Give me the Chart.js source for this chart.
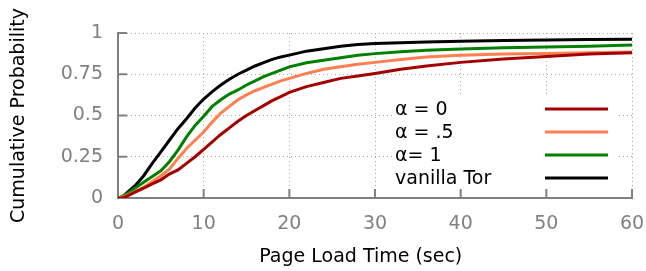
<!DOCTYPE html>
<html>
<head>
<meta charset="utf-8">
<script src="https://cdn.jsdelivr.net/npm/chart.js@4.4.1/dist/chart.umd.min.js"></script>
<style>
  body { margin: 0; background: #fff; }
  #wrap { width: 646px; height: 271px; position: relative; }
</style>
</head>
<body>
<div id="wrap"><canvas id="myChart"></canvas></div>
<script>
// load time (sec)
var times = [0, 0.5, 1, 2, 3, 4, 5, 6, 7, 8, 9, 10, 11, 12, 13, 14, 15, 16, 17, 18, 19, 20,
             22, 24, 26, 28, 30, 33, 36, 40, 45, 50, 55, 60];

var alpha0   = [0, 0, 0.01, 0.035, 0.06, 0.085, 0.11, 0.145, 0.17, 0.21, 0.25, 0.295, 0.34, 0.385, 0.425, 0.465, 0.50, 0.53, 0.56, 0.59, 0.615, 0.64,
                0.675, 0.70, 0.725, 0.74, 0.755, 0.78, 0.80, 0.822, 0.843, 0.858, 0.872, 0.88];
var alpha05  = [0, 0.005, 0.015, 0.04, 0.065, 0.10, 0.135, 0.175, 0.24, 0.30, 0.35, 0.40, 0.46, 0.515, 0.555, 0.595, 0.625, 0.65, 0.67, 0.69, 0.71, 0.725,
                0.755, 0.78, 0.795, 0.81, 0.822, 0.84, 0.855, 0.865, 0.872, 0.876, 0.88, 0.885];
var alpha1   = [0, 0.01, 0.025, 0.06, 0.095, 0.13, 0.165, 0.22, 0.29, 0.37, 0.44, 0.495, 0.555, 0.595, 0.63, 0.655, 0.685, 0.71, 0.735, 0.755, 0.775, 0.795,
                0.82, 0.835, 0.85, 0.865, 0.875, 0.887, 0.895, 0.903, 0.91, 0.915, 0.92, 0.927];
var vanilla  = [0, 0, 0.03, 0.075, 0.135, 0.21, 0.28, 0.35, 0.42, 0.48, 0.545, 0.60, 0.645, 0.685, 0.72, 0.75, 0.775, 0.80, 0.82, 0.84, 0.855, 0.866,
                0.89, 0.905, 0.92, 0.93, 0.936, 0.941, 0.945, 0.95, 0.954, 0.957, 0.96, 0.962];

var seriesNames = ['α = 0', 'α = .5', 'α= 1', 'vanilla Tor'];
var seriesColors = ['#a30000', '#ff7f50', '#008000', '#000000'];
var xTicks = [0, 10, 20, 30, 40, 50, 60];
var yTickLabels = ['0', '0.25', '0.5', '0.75', '1'];

var gray = '#808080';
var font = { family: 'DejaVu Sans', size: 19 };

function pts(vals) {
    return vals.map(function (v, i) { return { x: times[i], y: v }; });
}

var allSeries = [alpha0, alpha05, alpha1, vanilla];
var datasets = allSeries.map(function (s, i) {
    return {
        label: seriesNames[i],
        data: pts(s),
        borderColor: seriesColors[i],
        backgroundColor: seriesColors[i],
        borderWidth: 3,
        pointRadius: 0,
        tension: 0,
        fill: false
    };
});

// small tick marks pointing into the plot
var innerTicks = {
    id: 'innerTicks',
    beforeDatasetsDraw: function (chart) {
        var ctx = chart.ctx, a = chart.chartArea;
        var xs = chart.scales.x, ys = chart.scales.y;
        ctx.save();
        ctx.strokeStyle = gray;
        ctx.lineWidth = 2;
        ctx.beginPath();
        xs.ticks.forEach(function (t) {
            var px = xs.getPixelForValue(t.value);
            ctx.moveTo(px, a.bottom);
            ctx.lineTo(px, a.bottom - 9);
        });
        ys.ticks.forEach(function (t) {
            var py = ys.getPixelForValue(t.value);
            ctx.moveTo(a.left, py);
            ctx.lineTo(a.left + 9, py);
        });
        ctx.stroke();
        ctx.restore();
    }
};

// legend box inside the plot, text left and line sample right
var insideLegend = {
    id: 'insideLegend',
    afterDraw: function (chart) {
        var ctx = chart.ctx, a = chart.chartArea;
        var left = a.left + 277, top = a.top + 64;
        ctx.save();
        ctx.fillStyle = '#fff';
        ctx.fillRect(left - 2, top, 225, 91);
        ctx.font = '19px "DejaVu Sans"';
        ctx.textBaseline = 'middle';
        chart.data.datasets.forEach(function (ds, i) {
            var y = top + 13 + i * 23;
            ctx.fillStyle = '#000';
            ctx.fillText(ds.label, left, y);
            ctx.strokeStyle = ds.borderColor;
            ctx.lineWidth = 3;
            ctx.beginPath();
            ctx.moveTo(left + 150, y - 1);
            ctx.lineTo(left + 213, y - 1);
            ctx.stroke();
        });
        ctx.restore();
    }
};

const ctx = document.getElementById('myChart').getContext('2d');
const myChart = new Chart(ctx, {
    type: 'line',
    data: { datasets: datasets },
    plugins: [innerTicks, insideLegend],
    options: {
        responsive: true,
        maintainAspectRatio: false,
        animation: false,
        layout: { padding: { top: 33, right: 14, left: 0, bottom: 0 } },
        plugins: {
            legend: { display: false },
            tooltip: { enabled: false }
        },
        scales: {
            x: {
                type: 'linear',
                min: 0,
                max: 60,
                afterFit: function (s) { s.height = 73; s.paddingLeft = 0; s.paddingRight = 0; },
                afterBuildTicks: function (s) { s.ticks = xTicks.map(function (v) { return { value: v }; }); },
                ticks: { color: gray, font: font, padding: 15, maxRotation: 0 },
                grid: { color: '#a8a8a8', lineWidth: 1, drawTicks: false },
                border: { display: true, color: gray, width: 2, dash: [1, 3] },
                // trailing en spaces nudge the centred title a little left, as in the original
                title: { display: true, text: 'Page Load Time (sec)\u2002\u2002\u2002', color: '#000', font: font, padding: { top: 0, bottom: 3 } }
            },
            y: {
                type: 'linear',
                min: 0,
                max: 1,
                afterFit: function (s) { s.width = 118; },
                ticks: {
                    stepSize: 0.25,
                    color: gray,
                    font: font,
                    padding: 15,
                    callback: function (v, i) { return yTickLabels[i]; }
                },
                grid: { color: '#a8a8a8', lineWidth: 1, drawTicks: false },
                border: { display: true, color: gray, width: 2, dash: [1, 3] },
                title: { display: true, text: 'Cumulative Probability', color: '#000', font: font, padding: { top: 8, bottom: 0 } }
            }
        }
    }
});
</script>
</body>
</html>
